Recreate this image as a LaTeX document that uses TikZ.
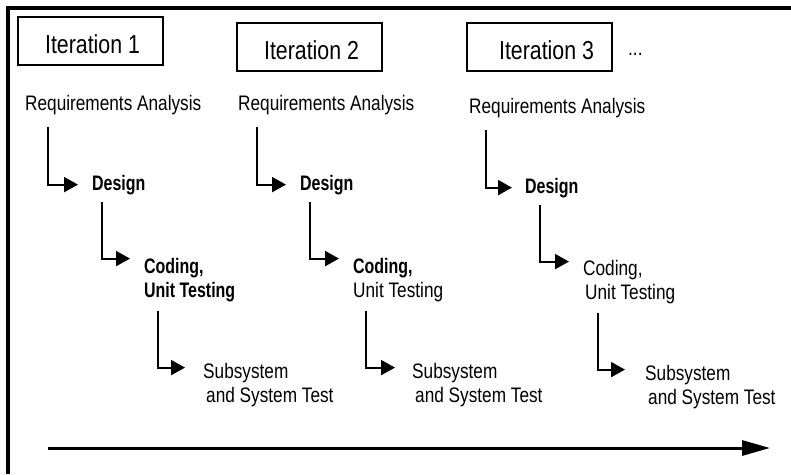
\documentclass[tikz,border=0pt]{standalone}
\usepackage{fontspec}
\setmainfont{Liberation Sans}[FakeStretch=0.82, BoldFeatures={FakeStretch=0.76}]
\usetikzlibrary{arrows.meta}

\tikzset{
  phase/.style={anchor=base west, inner sep=0pt, align=left,
    font=\fontsize{21}{24}\selectfont},
  itbox/.style={draw, line width=2.2pt, minimum width=145pt, minimum height=48pt,
    inner sep=0pt, text height=24pt, text depth=0pt,
    font=\fontsize{26}{30}\selectfont},
  flow/.style={line width=2pt, -{Triangle[length=14pt,width=15pt]}, shorten >=14pt},
}

\begin{document}
\begin{tikzpicture}[x=1pt,y=-1pt]
\useasboundingbox (0,0) rectangle (791,474);

% frame
\draw[line width=4pt] (8,474) -- (8,7.5) -- (791,7.5);

% iterations
\node[itbox] (it1) at (90.5,41) {\hspace*{4pt}Iteration 1};
\node[itbox] (it2) at (309.5,47) {\hspace*{4pt}Iteration 2};
\node[itbox] (it3) at (539.5,47) {\hspace*{14pt}Iteration 3};
\node[phase] (more) at (628,55) {...};

% phases (multi-line nodes sit on the baseline of their last line)
\node[phase] (ra1) at (25,110) {Requirements Analysis};
\node[phase] (ra2) at (238,110) {Requirements Analysis};
\node[phase] (ra3) at (469,113) {Requirements Analysis};

\node[phase,font=\fontsize{21}{24}\selectfont\bfseries] (des1) at (92,190) {Design};
\node[phase,font=\fontsize{21}{24}\selectfont\bfseries] (des2) at (300,190) {Design};
\node[phase,font=\fontsize{21}{24}\selectfont\bfseries] (des3) at (525,193) {Design};

\node[phase] (cod1) at (144,297) {\bfseries Coding,\\\bfseries Unit Testing};
\node[phase] (cod2) at (353,297) {\bfseries Coding,\\Unit Testing};
\node[phase] (cod3) at (583,299) {Coding,\\\hspace*{2pt}Unit Testing};

\node[phase] (sub1) at (203,402) {Subsystem\\\hspace*{3pt}and System Test};
\node[phase] (sub2) at (412,402) {Subsystem\\\hspace*{3pt}and System Test};
\node[phase] (sub3) at (645,404) {Subsystem\\\hspace*{3pt}and System Test};

% connectors
\draw[flow] ([xshift=23pt,yshift=-12pt]ra1.south west) |- (des1.west);
\draw[flow] ([xshift=10pt,yshift=-7pt]des1.south west) |- ([yshift=-1pt]cod1.north west);
\draw[flow,shorten >=18pt] ([xshift=14pt,yshift=-9pt]cod1.south west) |- ([yshift=-5pt]sub1.north west);

\draw[flow] ([xshift=19pt,yshift=-12pt]ra2.south west) |- (des2.west);
\draw[flow] ([xshift=10pt,yshift=-7pt]des2.south west) |- ([yshift=-1pt]cod2.north west);
\draw[flow,shorten >=17pt] ([xshift=13pt,yshift=-9pt]cod2.south west) |- ([yshift=-5pt]sub2.north west);

\draw[flow,shorten >=13pt] ([xshift=17pt,yshift=-12pt]ra3.south west) |- (des3.west);
\draw[flow] ([xshift=15pt,yshift=-7pt]des3.south west) |- ([yshift=-2pt]cod3.north west);
\draw[flow,shorten >=20pt] ([xshift=15pt,yshift=-9pt]cod3.south west) |- ([yshift=-5pt]sub3.north west);

% time axis
\coordinate (t0) at (48,448);
\coordinate (t1) at (770,448);
\draw[line width=3pt, -{Triangle[length=28pt,width=15pt]}] (t0) -- (t1);

\end{tikzpicture}
\end{document}
